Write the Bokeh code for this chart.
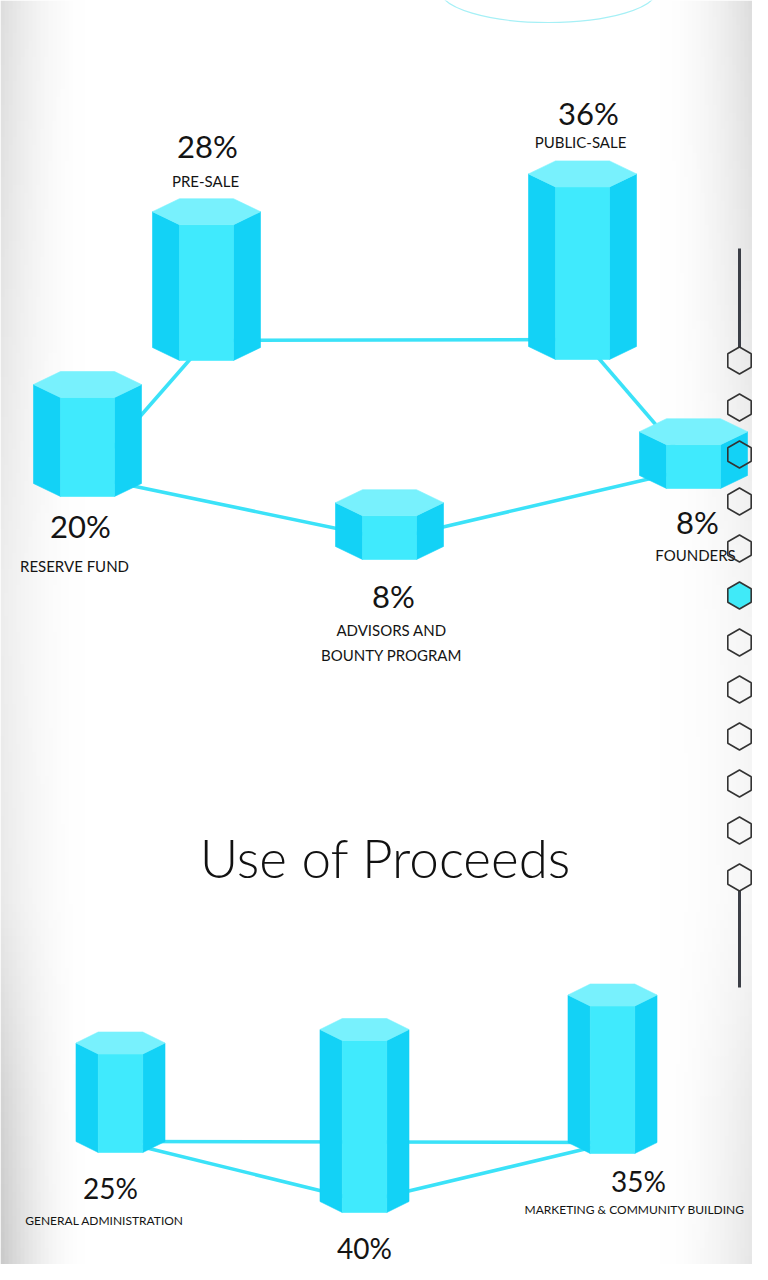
import numpy as np
from bokeh.plotting import figure
from bokeh.models import Range1d
from bokeh.core.properties import value
from bokeh.embed import file_html
from bokeh.resources import INLINE

# ---------------- data ----------------
token_names = ["RESERVE FUND", "PRE-SALE", "PUBLIC-SALE", "FOUNDERS", "ADVISORS AND\nBOUNTY PROGRAM"]
token_pct = [20, 28, 36, 8, 8]
proceeds_names = ["GENERAL ADMINISTRATION", "", "MARKETING & COMMUNITY BUILDING"]
proceeds_pct = [25, 40, 35]
title_text = "Use of Proceeds"
nav_count = 12
nav_active = 5

# ---------------- layout (pixels) ----------------
PW, PH = 752, 1264
token_cx = [87, 206, 582, 693, 389]
token_base = [496, 360, 359, 488, 559]
token_pct_pos = [(80, 525), (207, 145), (588, 112), (697, 521), (393, 595)]
token_name_pos = [(74, 565), (205, 180), (580, 141), (695, 554), (391, 642)]
token_links = [(0, 1), (1, 2), (2, 3), (3, 4), (4, 0)]
token_w, token_d, token_node = 108, 26, 20
token_h0, token_k = 33, 4.6

proc_cx = [120, 364, 612]
proc_base = [1152, 1212, 1153]
proc_pct_pos = [(110, 1187), (364, 1247), (638, 1180)]
proc_name_pos = [(104, 1220), (364, 1275), (634, 1209)]
proc_links = [(0, 2), (0, 1), (1, 2)]
proc_w, proc_d, proc_node = 89, 22, 11
proc_h0, proc_k = -2, 4.9

C_TOP, C_FRONT, C_SIDE, C_LINE = "#78F1FD", "#40EAFD", "#13D2F6", "#3BE2F8"
C_TEXT = "#141414"

p = figure(width=PW, height=PH, x_range=Range1d(0, PW), y_range=Range1d(PH, 0),
           output_backend="svg", toolbar_location=None, x_axis_type=None, y_axis_type=None,
           min_border=0, outline_line_color=None,
           background_fill_color="white", border_fill_color="white")
p.grid.visible = False

# ---- background vignette ----
xs_c = np.arange(0, PW, 4) + 2.0
ys_c = np.arange(0, PH, 8) + 4.0
XX, YY = np.meshgrid(xs_c, ys_c)
vy = [0, 300, 600, 900, 1100, 1280]
left_dark = np.interp(YY, vy, [34, 26, 18, 22, 44, 55])
right_dark = np.interp(YY, vy, [46, 34, 14, 12, 28, 34])
sl = np.clip((85 - XX) / 85.0, 0, 1) ** 1.8
sr = np.clip((XX - 660) / 108.0, 0, 1) ** 1.8
dark = sl * left_dark + sr * right_dark
g = np.clip(255 - dark, 0, 255).astype(np.uint32)
img = (np.uint32(255) << np.uint32(24)) | (g << np.uint32(16)) | (g << np.uint32(8)) | g
p.image_rgba(image=[img.astype(np.uint32)], x=0, y=0, dw=PW, dh=PH)

# ---- faint arc at top ----
p.ellipse(x=548, y=-10, width=216, height=64, fill_color=None, line_color="#A6F0F6", line_width=1.2)


def prism_faces(cx, by, w, d, h):
    ty = by - h
    a, q = w / 2.0, w / 4.0
    top = ([cx - q, cx + q, cx + a, cx + q, cx - q, cx - a],
           [ty, ty, ty + d / 2, ty + d, ty + d, ty + d / 2])
    left = ([cx - a, cx - q, cx - q, cx - a], [ty + d / 2, ty + d, by, by - d / 2])
    front = ([cx - q, cx + q, cx + q, cx - q], [ty + d, ty + d, by, by])
    right = ([cx + q, cx + a, cx + a, cx + q], [ty + d, ty + d / 2, by - d / 2, by])
    return [(left, C_SIDE), (right, C_SIDE), (front, C_FRONT), (top, C_TOP)]


def draw_group(cxs, bases, vals, w, d, node, h0, k, links):
    nx = list(cxs)
    ny = [bases[i] - node for i in range(len(cxs))]
    lx = [[nx[a], nx[b]] for a, b in links]
    ly = [[ny[a], ny[b]] for a, b in links]
    p.multi_line(xs=lx, ys=ly, line_color=C_LINE, line_width=3.5)
    order = sorted(range(len(cxs)), key=lambda i: bases[i])
    fx, fy, fc = [], [], []
    for i in order:
        h = h0 + k * vals[i]
        for (xs_, ys_), col in prism_faces(cxs[i], bases[i], w, d, h):
            fx.append(xs_)
            fy.append(ys_)
            fc.append(col)
    p.patches(xs=fx, ys=fy, fill_color=fc, line_color=fc, line_width=0.6)


draw_group(token_cx, token_base, token_pct, token_w, token_d, token_node, token_h0, token_k, token_links)
draw_group(proc_cx, proc_base, proceeds_pct, proc_w, proc_d, proc_node, proc_h0, proc_k, proc_links)

# ---- texts ----
p.text(x=[q[0] for q in token_pct_pos], y=[q[1] for q in token_pct_pos],
       text=[f"{v}%" for v in token_pct], text_align="center", text_baseline="middle",
       text_font=value("Lato"), text_font_size="31px", text_color=C_TEXT)
p.text(x=[q[0] for q in token_name_pos], y=[q[1] for q in token_name_pos],
       text=token_names, text_align="center", text_baseline="middle", text_line_height=1.35,
       text_font=value("Lato"), text_font_size="15px", text_color=C_TEXT)
p.text(x=[q[0] for q in proc_pct_pos], y=[q[1] for q in proc_pct_pos],
       text=[f"{v}%" for v in proceeds_pct], text_align="center", text_baseline="middle",
       text_font=value("Lato"), text_font_size="28px", text_color=C_TEXT)
named = [i for i, n in enumerate(proceeds_names) if n]
p.text(x=[proc_name_pos[i][0] for i in named], y=[proc_name_pos[i][1] for i in named],
       text=[proceeds_names[i] for i in named], text_align="center", text_baseline="middle",
       text_font=value("Lato"), text_font_size="12px", text_color=C_TEXT)
p.text(x=[385], y=[857], text=[title_text], text_align="center", text_baseline="middle",
       text_font=value("Lato Light"), text_font_size="53px", text_color="#111111")

# ---- side navigation ----
nav_x, nav_y0, nav_step, nav_r = 739, 360, 47, 13.5
nav_y = [nav_y0 + nav_step * i for i in range(nav_count)]
p.segment(x0=[nav_x, nav_x], y0=[248, nav_y[-1] + nav_r], x1=[nav_x, nav_x],
          y1=[nav_y[0] - nav_r, 987], line_color="#3B3E46", line_width=3)
ang = np.deg2rad(30 + 60 * np.arange(6))
hx = [list(nav_x + nav_r * np.cos(ang)) for _ in nav_y]
hy = [list(cy + nav_r * np.sin(ang)) for cy in nav_y]
alphas = [1.0 if i == nav_active else 0.0 for i in range(nav_count)]
p.patches(xs=hx, ys=hy, fill_color="#40EAF8", fill_alpha=alphas, line_color="#333333", line_width=1.6)

open("out.html", "w").write(file_html(p, INLINE))
